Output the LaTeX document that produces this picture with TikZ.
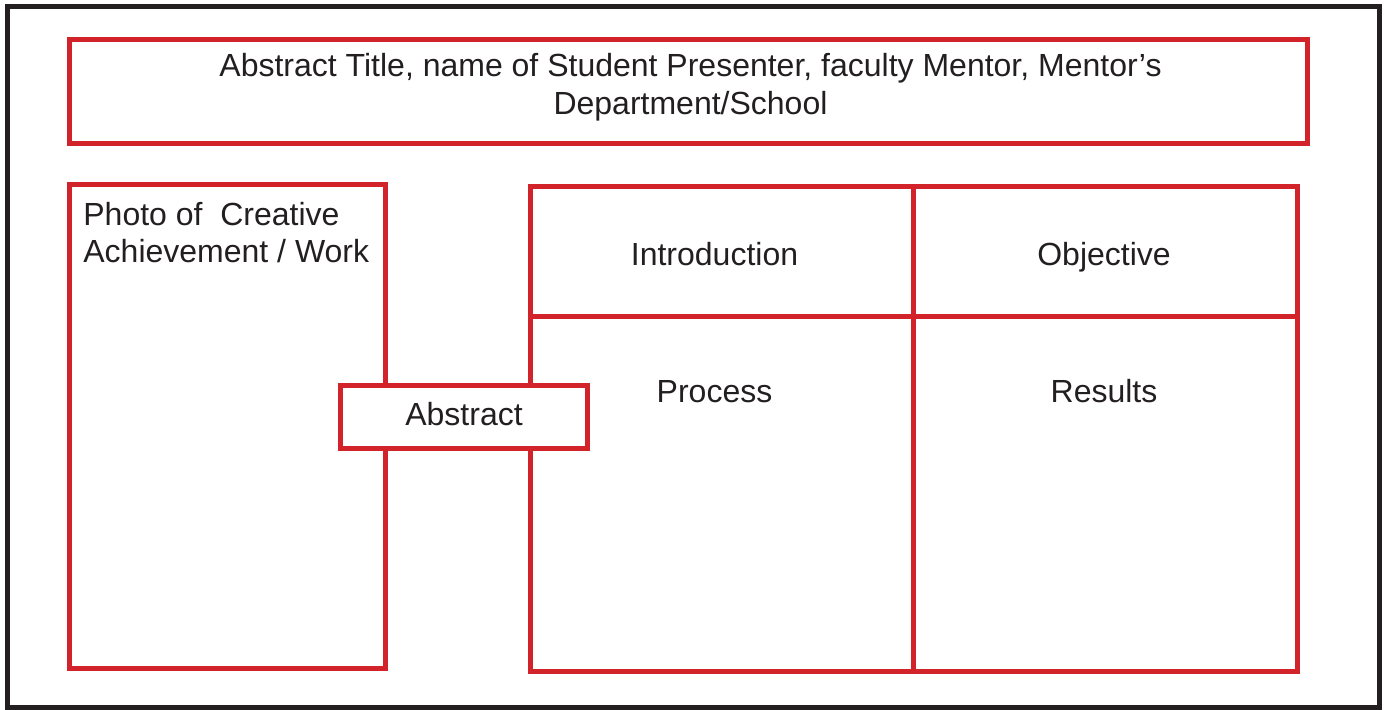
\documentclass[tikz,border=0pt]{standalone}
\usepackage{fontspec}
\setmainfont{Liberation Sans}
\usetikzlibrary{fit}
\definecolor{posterred}{HTML}{D2232A}
\definecolor{inkblack}{HTML}{231F20}
\begin{document}
\begin{tikzpicture}[x=0.5pt,y=-0.5pt,
  redbox/.style={draw=posterred,line width=2.5pt,inner sep=0pt,rectangle},
  whitebox/.style={redbox,fill=white},
  outerframe/.style={draw=inkblack,line width=2.5pt},
  txt/.style={text=inkblack,font=\fontsize{16}{19}\selectfont,inner sep=0pt},
]
\useasboundingbox (0,0) rectangle (1385,709);
\draw[outerframe] (7.5,6.5) rectangle (1379.5,707);
% title
\node[redbox,fit={(69.5,39.5)(1307.5,143.5)}] (title) {};
\node[txt,anchor=base] (t1) at (690.5,76) {Abstract Title, name of Student Presenter, faculty Mentor, Mentor’s};
\node[txt,anchor=base] (t2) at (690.5,114) {Department/School};
% photo
\node[redbox,fit={(69.5,184)(385.5,668)}] (photo) {};
\node[txt,anchor=base west] (p1) at (83,225.5) {Photo of\ \ Creative};
\node[txt,anchor=base west] (p2) at (83,262.5) {Achievement / Work};
% grid cells
\node[redbox,fit={(530.5,186.5)(913.5,316)}] (intro) {};
\node[redbox,fit={(913.5,186.5)(1297.5,316)}] (obj) {};
\node[redbox,fit={(530.5,316)(913.5,671.5)}] (proc) {};
\node[redbox,fit={(913.5,316)(1297.5,671.5)}] (res) {};
\node[txt,anchor=base] (introtxt) at (714.5,265) {Introduction};
\node[txt,anchor=base] (objtxt) at (1104,265) {Objective};
\node[txt,anchor=base] (proctxt) at (714.5,402) {Process};
\node[txt,anchor=base] (restxt) at (1104,402) {Results};
% abstract
\node[whitebox,fit={(340.5,385.5)(587.5,448.5)}] (abs) {};
\node[txt,anchor=base] (abstxt) at (464,425) {Abstract};
\end{tikzpicture}
\end{document}
